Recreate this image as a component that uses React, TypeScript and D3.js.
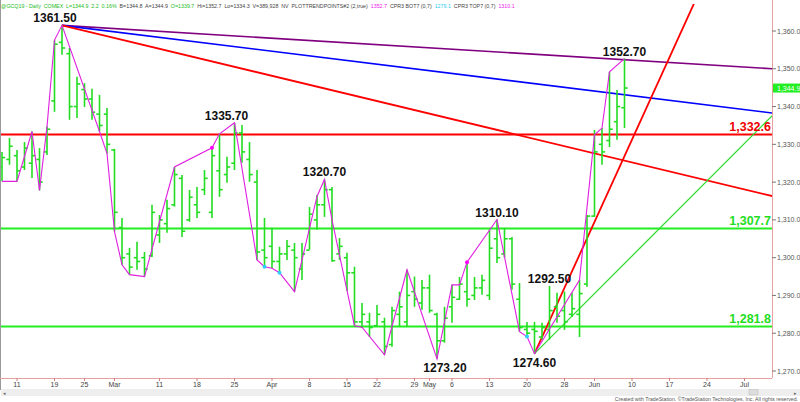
import React from 'react';
import * as d3 from 'd3';

const W = 800;
const H = 402;

// Trading days (Feb 7 .. Jun 7, 2019)
const dates = [
  'Feb 7', 'Feb 8', 'Feb 11', 'Feb 12', 'Feb 13', 'Feb 14', 'Feb 15', 'Feb 19', 'Feb 20', 'Feb 21',
  'Feb 22', 'Feb 25', 'Feb 26', 'Feb 27', 'Feb 28', 'Mar 1', 'Mar 4', 'Mar 5', 'Mar 6', 'Mar 7',
  'Mar 8', 'Mar 11', 'Mar 12', 'Mar 13', 'Mar 14', 'Mar 15', 'Mar 18', 'Mar 19', 'Mar 20', 'Mar 21',
  'Mar 22', 'Mar 25', 'Mar 26', 'Mar 27', 'Mar 28', 'Mar 29', 'Apr 1', 'Apr 2', 'Apr 3', 'Apr 4',
  'Apr 5', 'Apr 8', 'Apr 9', 'Apr 10', 'Apr 11', 'Apr 12', 'Apr 15', 'Apr 16', 'Apr 17', 'Apr 18',
  'Apr 22', 'Apr 23', 'Apr 24', 'Apr 25', 'Apr 26', 'Apr 29', 'Apr 30', 'May 1', 'May 2', 'May 3',
  'May 6', 'May 7', 'May 8', 'May 9', 'May 10', 'May 13', 'May 14', 'May 15', 'May 16', 'May 17',
  'May 20', 'May 21', 'May 22', 'May 23', 'May 24', 'May 28', 'May 29', 'May 30', 'May 31', 'Jun 3',
  'Jun 4', 'Jun 5', 'Jun 6', 'Jun 7',
];

const opens = [
  1324, 1326, 1327, 1324, 1325, 1326, 1328, 1341.5, 1357, 1354,
  1340, 1344.5, 1342, 1338, 1338, 1328.5, 1308, 1301, 1300, 1300,
  1300.5, 1306, 1309, 1314, 1321, 1310, 1314, 1318, 1312, 1323,
  1322, 1325, 1333, 1326, 1320, 1302, 1303, 1299, 1301, 1302,
  1297, 1302, 1310, 1314, 1318, 1301, 1300, 1296, 1283, 1283,
  1282, 1283, 1277, 1285, 1283, 1291, 1288, 1292, 1285, 1278,
  1287, 1289, 1291, 1290, 1292, 1290, 1305, 1301, 1305, 1289,
  1281, 1281, 1279, 1281, 1287, 1286, 1285, 1285, 1293, 1311,
  1330, 1331, 1336, 1339.7,
];
const highs = [
  1328.0, 1331.7, 1328.5, 1330.6, 1333.4, 1329.0, 1334.7, 1357.6, 1361.5, 1355.5,
  1347.9, 1346.2, 1344.7, 1343.1, 1339.6, 1328.8, 1310.5, 1302.6, 1304.2, 1301.5,
  1314.0, 1311.3, 1315.3, 1324.0, 1321.9, 1317.9, 1318.7, 1323.2, 1329.1, 1332.8,
  1326.7, 1335.7, 1335.1, 1330.6, 1323.2, 1310.5, 1307.9, 1302.9, 1304.7, 1303.9,
  1303.9, 1313.4, 1316.6, 1320.7, 1318.7, 1305.2, 1301.3, 1297.6, 1288.0, 1285.4,
  1287.5, 1284.1, 1287.0, 1291.0, 1296.8, 1295.0, 1294.1, 1295.5, 1285.4, 1287.0,
  1292.8, 1294.9, 1298.8, 1294.9, 1295.5, 1307.4, 1310.1, 1307.9, 1305.5, 1293.3,
  1283.0, 1283.0, 1282.8, 1292.5, 1290.7, 1291.0, 1290.7, 1294.1, 1311.3, 1333.8,
  1334.3, 1349.2, 1344.4, 1352.7,
];
const lows = [
  1320.2, 1324.6, 1320.2, 1323.2, 1321.1, 1317.8, 1327.2, 1338.6, 1353.7, 1336.5,
  1337.0, 1339.9, 1336.5, 1333.4, 1327.6, 1306.9, 1298.1, 1295.5, 1296.8, 1295.0,
  1300.2, 1303.9, 1306.6, 1313.5, 1305.5, 1309.5, 1310.5, 1316.6, 1310.5, 1316.1,
  1319.8, 1323.2, 1325.1, 1320.1, 1299.4, 1297.6, 1297.2, 1296.0, 1299.4, 1291.0,
  1294.1, 1302.1, 1307.4, 1310.8, 1298.9, 1299.4, 1291.2, 1282.0, 1281.4, 1279.0,
  1281.7, 1274.3, 1276.4, 1281.7, 1281.7, 1287.0, 1286.2, 1285.4, 1273.2, 1277.5,
  1282.8, 1288.8, 1287.0, 1288.8, 1290.2, 1288.8, 1298.6, 1300.0, 1291.5, 1280.4,
  1279.1, 1274.6, 1278.3, 1278.3, 1282.8, 1280.9, 1284.3, 1279.0, 1292.3, 1310.8,
  1324.6, 1329.3, 1331.2, 1334.3,
];
const closes = [
  1326.5, 1329.5, 1323, 1329, 1327, 1320, 1334, 1356.5, 1355.5, 1340,
  1346, 1342, 1338.5, 1335, 1330, 1312, 1300, 1297.5, 1299, 1297,
  1312, 1310, 1313, 1322, 1307, 1316, 1312, 1321, 1327, 1318,
  1324, 1333, 1328, 1322, 1301.5, 1300, 1299, 1301, 1303, 1300,
  1301, 1311.5, 1314, 1318, 1299.2, 1303, 1296, 1283, 1285, 1281.5,
  1285, 1276.5, 1286, 1287, 1290, 1289, 1292, 1286, 1278, 1284,
  1289.5, 1293, 1289, 1292, 1294, 1302.5, 1300, 1305, 1293, 1281.5,
  1280, 1280.5, 1281.5, 1286, 1284.5, 1283, 1286.5, 1290.5, 1311, 1328,
  1328, 1334, 1340, 1344.9,
];

// Zig-zag (PlotTrendPoints) vertices: bar slot and price
const zzSlots = [0, 2, 4, 5, 6, 7, 8, 13, 14, 15, 16, 17, 19, 23, 28, 29, 31, 34, 35, 36, 37, 39, 42, 43, 44, 47, 48, 51, 54, 58, 60, 61, 62, 66, 69, 70, 71, 77, 79, 80, 81, 83];
const zzPrices = [1320.2, 1320.2, 1333.4, 1317.8, 1334.7, 1357.6, 1361.5, 1333.4, 1327.6, 1306.9, 1298.1, 1295.5, 1295.0, 1324.0, 1329.1, 1332.8, 1335.7, 1299.4, 1297.6, 1297.2, 1296.0, 1291.0, 1316.2, 1320.7, 1310.0, 1282.0, 1281.6, 1274.3, 1296.8, 1273.2, 1292.8, 1292.8, 1298.8, 1310.1, 1280.4, 1279.1, 1274.6, 1294.1, 1332.5, 1334.3, 1349.2, 1352.7];

// Marker dots
const dotSlots = [28, 62, 35, 37, 70];
const dotPrices = [1329.1, 1298.8, 1297.6, 1296.0, 1279.1];
const dotColors = ['#ff00ff', '#ff00ff', '#33ccff', '#33ccff', '#33ccff'];

// Swing labels
const swingText = ['1361.50', '1335.70', '1320.70', '1310.10', '1292.50', '1352.70', '1273.20', '1274.60'];
const swingSlots = [8, 31, 43, 66, 73, 83, 58, 71];
const swingPrices = [1361.5, 1335.7, 1320.7, 1310.1, 1292.5, 1352.7, 1273.2, 1274.6];
const swingAbove = [true, true, true, true, true, true, false, false];
const swingDx = [-7, -8, 0, 0, 0, 0, 8, 0];

// Horizontal levels
const levelValues = [1332.6, 1307.7, 1281.8];
const levelColors = ['#ff0000', '#22ee22', '#22ee22'];

// Trend lines [slot, price] start and end
const trendStart = [[8, 1361.5], [8, 1361.5], [8, 1361.5], [71, 1274.6], [71, 1274.6]];
const trendEnd = [[102.7, 1350.0], [102.7, 1338.3], [102.7, 1316.3], [94.5, 1377.0], [102.7, 1337.6]];
const trendColors = ['#800080', '#0000ff', '#ff0000', '#ff0000', '#33dd33'];
const trendWidths = [1.6, 1.6, 1.8, 1.8, 1.3];

// Date axis
const tickSlots = [2, 7, 11, 15, 21, 26, 31, 36, 41, 46, 50, 55, 57, 60, 65, 70, 75, 79, 84, 89, 94, 99];
const tickLabels = ['11', '19', '25', 'Mar', '11', '18', '25', 'Apr', '8', '15', '22', '29', 'May', '6', '13', '20', '28', 'Jun', '10', '17', '24', 'Jul'];

// Price axis
const priceTicks = [1270, 1280, 1290, 1300, 1310, 1320, 1330, 1340, 1350, 1360];
const lastPrice = 1344.9;

// Header text segments: text, colour
const headerParts: [string, string][] = [
  ['@GCQ19 - Daily  COMEX  L=1344.9  2.2  0.16%  ', '#22bb22'],
  ['B=1344.8  A=1344.9  ', '#444'],
  ['O=1339.7  ', '#22bb22'],
  ['Hi=1352.7  Lo=1334.3  V=389,928  NV  PLOTTRENDPOINTS#2 (2,true)  ', '#444'],
  ['1352.7  ', '#ee22ee'],
  ['CPR3 BOT7 (0,7)  ', '#444'],
  ['1279.1  ', '#33ccee'],
  ['CPR3 TOP7 (0,7)  ', '#444'],
  ['1310.1', '#ee22ee'],
];

const PLOT_RIGHT = 772;
const PLOT_BOTTOM = 378;
const FONT = "'Liberation Sans', Arial, sans-serif";

export default function App() {
  const x = d3.scaleLinear().domain([0, 99]).range([2, 744.5]);
  const y = d3.scaleLinear().domain([1270, 1360]).range([371, 31]);
  const fmt = d3.format(',.1f');
  const zz = d3.line<number>().x((_, i) => x(zzSlots[i])).y((d) => y(d));
  const barColor = '#22dd22';

  return (
    <svg width={W} height={H} style={{ position: 'absolute', left: 0, top: 0, background: '#fff' }} fontFamily={FONT}>
      <defs>
        <clipPath id="plot">
          <rect x={0} y={4} width={PLOT_RIGHT} height={PLOT_BOTTOM - 4} />
        </clipPath>
      </defs>
      <rect x={0} y={0} width={W} height={H} fill="#fff" />

      {/* header */}
      <text x={1} y={8} fontSize={5.3} style={{ whiteSpace: 'pre' }}>
        {headerParts.map(([t, c], i) => (
          <tspan key={'h' + i} fill={c}>{t}</tspan>
        ))}
      </text>

      <g clipPath="url(#plot)">
        {levelValues.map((v, i) => (
          <line key={'lv' + i} x1={0} x2={PLOT_RIGHT} y1={y(v)} y2={y(v)} stroke={levelColors[i]} strokeWidth={2} />
        ))}
        {trendStart.map((s, i) => (
          <line key={'tl' + i} x1={x(s[0])} y1={y(s[1])} x2={x(trendEnd[i][0])} y2={y(trendEnd[i][1])}
            stroke={trendColors[i]} strokeWidth={trendWidths[i]} />
        ))}
        {dates.map((d, i) => {
          const cx = x(i);
          return (
            <g key={'b' + i} stroke={barColor} strokeWidth={1.6}>
              <line x1={cx} x2={cx} y1={y(highs[i])} y2={y(lows[i])} />
              <line x1={cx - 3.2} x2={cx} y1={y(opens[i])} y2={y(opens[i])} />
              <line x1={cx} x2={cx + 3.2} y1={y(closes[i])} y2={y(closes[i])} />
            </g>
          );
        })}
        <path d={zz(zzPrices) || ''} fill="none" stroke="#e020e0" strokeWidth={1.1} />
        {dotSlots.map((s, i) => (
          <circle key={'dt' + i} cx={x(s)} cy={y(dotPrices[i])} r={2} fill={dotColors[i]} />
        ))}
      </g>

      {swingText.map((t, i) => (
        <text key={'sw' + i} x={x(swingSlots[i]) + swingDx[i]}
          y={swingAbove[i] ? y(swingPrices[i]) - 3 : y(swingPrices[i]) + 13}
          textAnchor="middle" fontSize={12} fontWeight="bold" fill="#111">{t}</text>
      ))}

      {levelValues.map((v, i) => (
        <text key={'ll' + i} x={PLOT_RIGHT - 1} y={y(v) - 3.5} textAnchor="end" fontSize={12.5}
          fontWeight="bold" fill={i === 0 ? '#ee0000' : '#22dd22'}>{fmt(v)}</text>
      ))}

      <line x1={0.5} x2={0.5} y1={0} y2={390} stroke="#999" strokeWidth={1} />
      <line x1={PLOT_RIGHT + 0.5} x2={PLOT_RIGHT + 0.5} y1={0} y2={PLOT_BOTTOM} stroke="#e8a0a0" strokeWidth={1} />
      <line x1={0} x2={PLOT_RIGHT} y1={PLOT_BOTTOM + 0.5} y2={PLOT_BOTTOM + 0.5} stroke="#e8a0a0" strokeWidth={1} />

      {priceTicks.map((v) => (
        <g key={'pt' + v}>
          <line x1={PLOT_RIGHT} x2={PLOT_RIGHT + 4} y1={y(v)} y2={y(v)} stroke="#777" />
          <text x={PLOT_RIGHT + 5} y={y(v) + 2.5} fontSize={7} fill="#555">{fmt(v)}</text>
        </g>
      ))}
      <rect x={PLOT_RIGHT + 1} y={y(lastPrice) - 4.5} width={W - PLOT_RIGHT - 1} height={9} fill="#22ee22" />
      <text x={PLOT_RIGHT + 5} y={y(lastPrice) + 2.5} fontSize={7} fill="#fff">{fmt(lastPrice)}</text>

      {tickSlots.map((s, i) => (
        <g key={'dx' + i}>
          <line x1={x(s)} x2={x(s)} y1={PLOT_BOTTOM} y2={PLOT_BOTTOM + 3} stroke="#d08080" />
          <text x={x(s)} y={387} textAnchor="middle" fontSize={7} fill="#444">{tickLabels[i]}</text>
        </g>
      ))}

      <rect x={1} y={389} width={W - 1} height={7} fill="#eeeeee" />
      <rect x={749} y={389.5} width={9} height={5.5} fill="#dddddd" stroke="#bbb" strokeWidth={0.5} />
      <text x={3} y={395} fontSize={5} fill="#666">◂</text>
      <text x={794} y={395} fontSize={5} fill="#666">▸</text>

      <text x={798} y={400.5} textAnchor="end" fontSize={5.2} fill="#555">
        Created with TradeStation. ©TradeStation Technologies, Inc. All rights reserved.
      </text>
    </svg>
  );
}
